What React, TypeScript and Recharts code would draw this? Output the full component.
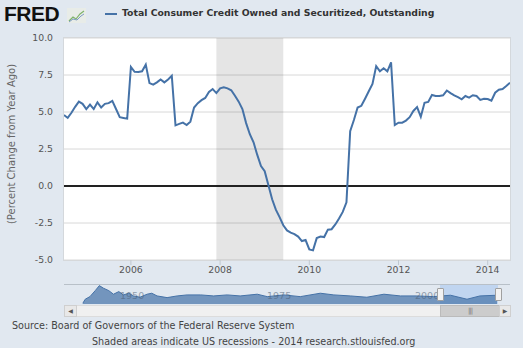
import React from 'react';
import { LineChart, Line, XAxis, YAxis, CartesianGrid, ReferenceArea, ReferenceLine, AreaChart, Area } from 'recharts';

const FONT = "'DejaVu Sans', Verdana, sans-serif";
const LINE_COLOR = '#4572A7';

// monthly, starting Jul 2004
const startYear = 2004;
const startMonth = 7;
const pctChange = [
  4.8, 4.6, 4.95, 5.35, 5.7, 5.55, 5.2, 5.5, 5.2, 5.65, 5.3, 5.55,
  5.6, 5.75, 5.2, 4.65, 4.6, 4.55, 8.05, 7.72, 7.7, 7.75, 8.2, 6.95,
  6.85, 7.0, 7.2, 7.0, 7.2, 7.45, 4.1, 4.2, 4.28, 4.12, 4.35, 5.3,
  5.6, 5.8, 5.95, 6.35, 6.55, 6.28, 6.6, 6.67, 6.6, 6.47, 6.1, 5.7,
  5.2, 4.25, 3.5, 2.95, 2.1, 1.35, 1.0, 0.05, -0.9, -1.6, -2.1, -2.65,
  -3.0, -3.15, -3.25, -3.42, -3.72, -3.65, -4.28, -4.35, -3.52, -3.42, -3.45, -2.95,
  -2.92, -2.6, -2.2, -1.75, -1.1, 3.7, 4.46, 5.3, 5.42, 5.9, 6.4, 6.9,
  8.1, 7.75, 7.95, 7.75, 8.35, 4.12, 4.28, 4.28, 4.42, 4.65, 5.07, 5.33,
  4.68, 5.62, 5.68, 6.15, 6.08, 6.08, 6.13, 6.45, 6.28, 6.12, 6.0, 5.86,
  6.08, 5.97, 6.13, 6.08, 5.82, 5.9, 5.88, 5.76, 6.3, 6.5, 6.55, 6.76,
  6.98,
];
const xTicks = [2006, 2008, 2010, 2012, 2014];
const yTicks = [-5, -2.5, 0, 2.5, 5, 7.5, 10];
// Dec 2007 - Jun 2009
const recessionStart = 2007 + 11 / 12;
const recessionEnd = 2009 + 5 / 12;

// navigator: full history, rough read
const navYears = [
  1944.0, 1944.4, 1945.2, 1946.1, 1946.8, 1947.5, 1948.4, 1949.2, 1950.1, 1950.9,
  1951.8, 1952.6, 1953.7, 1954.9, 1955.7, 1956.6, 1958.3, 1960.0, 1961.7, 1964.0,
  1966.2, 1968.5, 1970.7, 1973.6, 1975.3, 1978.1, 1980.9, 1984.3, 1986.6, 1989.4,
  1992.2, 1995.1, 1997.9, 2000.7, 2003.5, 2006.4, 2009.2, 2011.4, 2014.3,
];
const navValues = [
  -15.8, -4.4, 3.0, 20.1, 34.4, 27.0, 20.1, 9.9, 17.3, 7.9,
  12.7, 5.0, 1.3, 9.9, 12.7, 5.0, 0.2, 5.0, 7.9, 7.9,
  5.0, 7.9, 5.0, 9.9, 3.0, 7.9, 3.0, 12.7, 7.9, 5.0,
  1.3, 9.9, 5.0, 5.0, 3.0, 7.0, -4.4, 5.0, 7.0,
];
const navLabels = [
  { label: '1950', left: 120 },
  { label: '1975', left: 267 },
  { label: '2000', left: 415 },
];

const data = pctChange.map((v, i) => ({ t: startYear + (startMonth - 1 + i) / 12, v }));
const navData = navYears.map((t, i) => ({ t, v: navValues[i] }));

export default function App() {
  return (
    <div style={{ position: 'absolute', left: 0, top: 0, width: 523, height: 348, background: '#e1e8f0', overflow: 'hidden', fontFamily: FONT }}>
      {/* logo */}
      <div style={{ position: 'absolute', left: 4, top: 2, fontFamily: "'Liberation Sans', Arial, sans-serif", fontWeight: 900, fontSize: 21, color: '#111', letterSpacing: -0.5 }}>FRED</div>
      <svg style={{ position: 'absolute', left: 67, top: 8 }} width={19} height={15}>
        <rect x={0} y={0} width={19} height={15} fill="#e8ece8" />
        <polyline points="2,13 6,9 9,11 13,6 17,3" fill="none" stroke="#7fb36b" strokeWidth={1.2} />
        <polyline points="2,14 6,11 10,12 14,8 17,6" fill="none" stroke="#7f9cc4" strokeWidth={1} />
      </svg>

      {/* legend */}
      <div style={{ position: 'absolute', left: 105, top: 13, width: 12, height: 2, background: LINE_COLOR }} />
      <div style={{ position: 'absolute', left: 122, top: 7, fontSize: 9.3, fontWeight: 'bold', color: '#333', whiteSpace: 'nowrap' }}>
        Total Consumer Credit Owned and Securitized, Outstanding
      </div>

      {/* y axis title */}
      <svg style={{ position: 'absolute', left: 0, top: 0 }} width={30} height={280}>
        <text x={0} y={0} transform="translate(15,144) rotate(-90)" textAnchor="middle" fontSize={10} fontFamily={FONT} fill="#666">
          (Percent Change from Year Ago)
        </text>
      </svg>

      {/* plot background */}
      <div style={{ position: 'absolute', left: 63, top: 37, width: 446, height: 222, background: '#fff', border: '1px solid #d4d8dc' }} />

      <div style={{ position: 'absolute', left: 0, top: 0 }}>
        <LineChart width={523} height={290} data={data} margin={{ top: 38, right: 13, bottom: 0, left: 4 }}>
          <CartesianGrid vertical={false} stroke="#d8d8d8" />
          <ReferenceArea x1={recessionStart} x2={recessionEnd} fill="#000" fillOpacity={0.1} stroke="none" ifOverflow="hidden" />
          <XAxis
            dataKey="t"
            type="number"
            domain={[2004.5, 2014.5]}
            ticks={xTicks}
            allowDataOverflow
            axisLine={false}
            tickLine={{ stroke: '#c0c8d0' }}
            tickSize={5}
            tickMargin={1}
            height={30}
            tick={{ fill: '#555', fontSize: 9.3, fontFamily: FONT }}
          />
          <YAxis
            type="number"
            domain={[-5, 10]}
            ticks={yTicks}
            width={60}
            axisLine={false}
            tickLine={false}
            tickSize={6}
            tickMargin={5}
            tickFormatter={(v: number) => v.toFixed(1)}
            tick={{ fill: '#555', fontSize: 9.3, fontFamily: FONT }}
          />
          <ReferenceLine y={0} stroke="#222" strokeWidth={2} />
          <Line type="linear" dataKey="v" stroke={LINE_COLOR} strokeWidth={2} dot={false} isAnimationActive={false} />
        </LineChart>
      </div>

      {/* navigator */}
      <div style={{ position: 'absolute', left: 64, top: 284, width: 446, height: 1, background: '#b8c0c8' }} />
      <div style={{ position: 'absolute', left: 440, top: 285, width: 58, height: 19, background: 'rgba(170,200,240,0.6)' }} />
      <div style={{ position: 'absolute', left: 64, top: 284 }}>
        <AreaChart width={446} height={20} data={navData} margin={{ top: 0, right: 0, bottom: 0, left: 0 }}>
          <XAxis hide dataKey="t" type="number" domain={[1940.8, 2016.5]} />
          <YAxis hide type="number" domain={[-18, 39]} />
          <Area type="linear" dataKey="v" baseValue="dataMin" stroke={LINE_COLOR} strokeWidth={1} fill={LINE_COLOR} fillOpacity={0.7} isAnimationActive={false} />
        </AreaChart>
      </div>
      {navLabels.map((n) => (
        <div key={n.label} style={{ position: 'absolute', left: n.left, top: 290, fontSize: 9.5, color: '#4d5e73', opacity: 0.55 }}>{n.label}</div>
      ))}
      {[437, 495].map((x) => (
        <div key={x} style={{ position: 'absolute', left: x, top: 288, width: 5, height: 11, background: '#f2f2f2', border: '1px solid #a0a0a0', borderRadius: 1 }} />
      ))}

      {/* scrollbar */}
      <div style={{ position: 'absolute', left: 64, top: 305, width: 445, height: 10, background: '#f0f0f0', border: '1px solid #dcdcdc' }} />
      <div style={{ position: 'absolute', left: 64, top: 305, width: 11, height: 10, background: '#e8e8e8', border: '1px solid #cfcfcf', fontSize: 6, color: '#555', textAlign: 'center', lineHeight: '10px' }}>◀</div>
      <div style={{ position: 'absolute', left: 440, top: 305, width: 58, height: 10, background: '#cccccc', border: '1px solid #bbbbbb', fontSize: 7, color: '#777', textAlign: 'center', lineHeight: '10px', letterSpacing: -1 }}>|||</div>
      <div style={{ position: 'absolute', left: 499, top: 305, width: 10, height: 10, background: '#e8e8e8', border: '1px solid #cfcfcf', fontSize: 6, color: '#555', textAlign: 'center', lineHeight: '10px' }}>▶</div>

      {/* footer */}
      <div style={{ position: 'absolute', left: 12, top: 320, fontSize: 9.6, color: '#444', whiteSpace: 'nowrap' }}>
        Source: Board of Governors of the Federal Reserve System
      </div>
      <div style={{ position: 'absolute', left: 92, top: 336, fontSize: 9.6, color: '#444', whiteSpace: 'nowrap' }}>
        Shaded areas indicate US recessions - 2014 research.stlouisfed.org
      </div>
    </div>
  );
}
